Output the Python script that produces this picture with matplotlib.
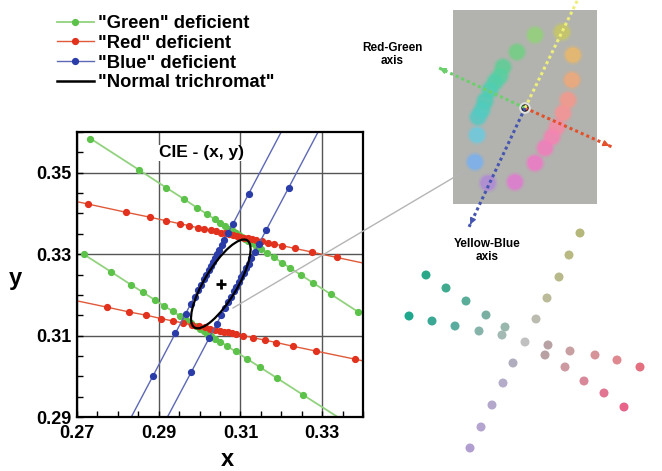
import numpy as np
import matplotlib.pyplot as plt
from matplotlib.patches import Ellipse, Rectangle
from matplotlib.ticker import MultipleLocator

plt.rcParams['font.family'] = ['Liberation Sans', 'DejaVu Sans']
plt.rcParams['font.weight'] = 'bold'

# ---- CIE (x, y) confusion lines ----
green_hi_x = [0.2733, 0.2852, 0.2919, 0.2961, 0.2994, 0.3019, 0.3037, 0.3051, 0.3063, 0.3073,
              0.3082, 0.3090, 0.3097, 0.3104, 0.3111, 0.3119, 0.3128, 0.3138, 0.3150, 0.3164,
              0.3181, 0.3202, 0.3222, 0.3248, 0.3277, 0.3321, 0.3387]
green_hi_y = [0.3584, 0.3507, 0.3463, 0.3436, 0.3414, 0.3398, 0.3386, 0.3377, 0.3370, 0.3363,
              0.3357, 0.3352, 0.3347, 0.3343, 0.3338, 0.3333, 0.3327, 0.3321, 0.3313, 0.3304,
              0.3293, 0.3279, 0.3266, 0.3249, 0.3230, 0.3202, 0.3159]
green_lo_x = [0.2716, 0.2783, 0.2832, 0.2862, 0.2890, 0.2913, 0.2934, 0.2952, 0.2967, 0.2980,
              0.2991, 0.3001, 0.3010, 0.3019, 0.3028, 0.3039, 0.3051, 0.3068, 0.3088, 0.3116,
              0.3147, 0.3189, 0.3254, 0.3360]
green_lo_y = [0.3300, 0.3257, 0.3225, 0.3206, 0.3188, 0.3173, 0.3160, 0.3148, 0.3139, 0.3130,
              0.3123, 0.3117, 0.3111, 0.3105, 0.3099, 0.3092, 0.3085, 0.3074, 0.3061, 0.3043,
              0.3023, 0.2996, 0.2954, 0.2886]
red_hi_x = [0.2640, 0.2728, 0.2820, 0.2878, 0.2919, 0.2951, 0.2975, 0.2995, 0.3012, 0.3027,
            0.3040, 0.3052, 0.3063, 0.3073, 0.3082, 0.3091, 0.3100, 0.3109, 0.3118, 0.3128,
            0.3139, 0.3152, 0.3167, 0.3183, 0.3202, 0.3234, 0.3276, 0.3336, 0.3420]
red_hi_y = [0.3442, 0.3423, 0.3403, 0.3391, 0.3382, 0.3375, 0.3370, 0.3365, 0.3362, 0.3359,
            0.3356, 0.3353, 0.3351, 0.3349, 0.3347, 0.3345, 0.3343, 0.3341, 0.3339, 0.3337,
            0.3334, 0.3332, 0.3328, 0.3325, 0.3321, 0.3314, 0.3305, 0.3292, 0.3274]
red_lo_x = [0.2640, 0.2773, 0.2828, 0.2870, 0.2905, 0.2935, 0.2960, 0.2981, 0.2998, 0.3013,
            0.3026, 0.3038, 0.3049, 0.3059, 0.3069, 0.3079, 0.3090, 0.3107, 0.3131, 0.3159,
            0.3188, 0.3228, 0.3285, 0.3381, 0.3460]
red_lo_y = [0.3198, 0.3170, 0.3158, 0.3150, 0.3142, 0.3136, 0.3131, 0.3126, 0.3123, 0.3120,
            0.3117, 0.3114, 0.3112, 0.3110, 0.3108, 0.3106, 0.3103, 0.3100, 0.3095, 0.3089,
            0.3083, 0.3074, 0.3062, 0.3042, 0.3025]
blue_l_x = [0.2825, 0.2886, 0.2941, 0.2966, 0.2978, 0.2988, 0.2996, 0.3003, 0.3010, 0.3016,
            0.3022, 0.3028, 0.3033, 0.3038, 0.3043, 0.3048, 0.3054, 0.3061, 0.3069, 0.3082,
            0.3120, 0.3215]
blue_l_y = [0.2885, 0.3001, 0.3106, 0.3154, 0.3177, 0.3196, 0.3211, 0.3225, 0.3238, 0.3249,
            0.3261, 0.3272, 0.3282, 0.3291, 0.3301, 0.3310, 0.3322, 0.3335, 0.3351, 0.3375,
            0.3448, 0.3629]
blue_r_x = [0.2915, 0.2980, 0.3023, 0.3042, 0.3053, 0.3062, 0.3070, 0.3077, 0.3084, 0.3090,
            0.3096, 0.3102, 0.3108, 0.3114, 0.3120, 0.3127, 0.3135, 0.3145, 0.3163, 0.3218,
            0.3300]
blue_r_y = [0.2888, 0.3011, 0.3093, 0.3129, 0.3150, 0.3167, 0.3182, 0.3195, 0.3209, 0.3220,
            0.3231, 0.3243, 0.3254, 0.3266, 0.3277, 0.3290, 0.3306, 0.3325, 0.3359, 0.3463,
            0.3619]

# normal trichromat discrimination ellipse (centre, axes, tilt)
ell_center = (0.3052, 0.3227)
ell_width = 0.0250
ell_height = 0.0080
ell_angle = 59

# ---- inset picture (figure pixel coords) ----
panel_box = (453, 10, 144, 194)  # x, y, w, h
centre = (525, 108)
rg_green_end = (437, 67)
rg_red_end = (612, 147)
yb_yellow_end = (580, -5)
yb_blue_end = (469, 227)
link_line = [(233, 308), (463, 172)]

panel_x = [535, 517, 503, 500, 495, 490, 485, 482, 478, 477, 475, 488,
           562, 573, 572, 568, 563, 557, 552, 545, 535, 515]
panel_y = [35, 52, 67, 76, 82, 90, 101, 110, 117, 135, 162, 183,
           32, 55, 80, 100, 113, 127, 137, 148, 163, 182]
panel_c = ['#92d27a', '#72d083', '#5ecf96', '#58cfa0', '#52cfa9', '#4fcfb1', '#4dcdb7', '#50ccbe',
           '#55c9c4', '#6ccbe0', '#78b0f0', '#b08ad8',
           '#c8c865', '#e9b86a', '#f0a878', '#f5988a', '#f79395', '#f78aa5', '#f583b3', '#f27dbd',
           '#ee78c6', '#e07ad0']

dots_x = [426, 446, 466, 486, 505,
          409, 432, 455, 479, 502,
          580, 569, 559, 547, 536, 525,
          513, 503, 492, 481, 470,
          548, 570, 595, 617, 640,
          545, 565, 584, 604, 624]
dots_y = [275, 288, 301, 315, 327,
          316, 321, 326, 331, 335,
          233, 255, 277, 298, 319, 342,
          363, 383, 405, 427, 448,
          345, 351, 355, 360, 367,
          355, 367, 381, 393, 407]
dots_c = ['#28a888', '#40aa8e', '#5aad98', '#7ab0a2', '#98b8ae',
          '#1fa88e', '#3aa894', '#5aac9e', '#86b4ab', '#a2bab3',
          '#b5b87a', '#b8ba82', '#b8b98a', '#bbbb9a', '#bbbbb0', '#c0c0c0',
          '#b0aebe', '#b4acc8', '#b3a8cc', '#b4a4d0', '#b09ed0',
          '#b9a2a4', '#c9a0a2', '#d49498', '#de8890', '#e46f7e',
          '#b9a0a2', '#cc9aa0', '#d88898', '#e27592', '#e8638a']

fig = plt.figure(figsize=(6.62, 4.71), dpi=100)
ax = fig.add_axes([0.1163, 0.1146, 0.432, 0.605])

g_kw = dict(color='#92d27e', lw=1.3, marker='o', ms=4.2, mfc='#5cc24a', mec='#5cc24a')
r_kw = dict(color='#e05a3a', lw=1.0, marker='o', ms=4.2, mfc='#e2321e', mec='#e2321e')
b_kw = dict(color='#5d68b6', lw=1.0, marker='o', ms=4.2, mfc='#2a3ca8', mec='#2a3ca8')

hg, = ax.plot(green_hi_x, green_hi_y, **g_kw)
ax.plot(green_lo_x, green_lo_y, **g_kw)
hr, = ax.plot(red_hi_x, red_hi_y, **r_kw)
ax.plot(red_lo_x, red_lo_y, **r_kw)
hb, = ax.plot(blue_l_x, blue_l_y, **b_kw)
ax.plot(blue_r_x, blue_r_y, **b_kw)
ax.add_patch(Ellipse(ell_center, ell_width, ell_height, angle=ell_angle,
                     fill=False, ec='black', lw=1.6, zorder=5))
ax.plot(*ell_center, marker='+', ms=7, mew=2, color='black', zorder=6)
hn, = ax.plot([], [], color='black', lw=1.8)

ax.set_xlim(0.27, 0.34)
ax.set_ylim(0.29, 0.36)
ax.set_xticks([0.27, 0.29, 0.31, 0.33])
ax.set_yticks([0.29, 0.31, 0.33, 0.35])
ax.xaxis.set_minor_locator(MultipleLocator(0.005))
ax.yaxis.set_minor_locator(MultipleLocator(0.005))
ax.tick_params(which='both', direction='in', length=4, width=1, labelsize=13)
ax.tick_params(axis='x', pad=6)
ax.tick_params(axis='y', pad=4)
ax.grid(True, which='major', color='#555555', lw=1.0)
ax.set_axisbelow(True)
for s in ax.spines.values():
    s.set_linewidth(1.6)
ax.text(0.29, 0.3549, 'CIE - (x, y)', fontsize=12.5, ha='left', va='center',
        bbox=dict(fc='white', ec='none', pad=0.5), zorder=4)

fig.text(227 / 662, 1 - 460 / 471, 'x', fontsize=17, ha='center', va='center')
fig.text(15 / 662, 1 - 279 / 471, 'y', fontsize=17, ha='center', va='center')

fig.legend([hg, hr, hb, hn],
           ['"Green" deficient', '"Red" deficient', '"Blue" deficient', '"Normal trichromat"'],
           loc='upper left', bbox_to_anchor=(57 / 662, 1 - 15 / 471), frameon=False,
           fontsize=13.2, numpoints=1, handlelength=2.0, handletextpad=0.25,
           labelspacing=0.15, borderpad=0, borderaxespad=0)

# overlay in pixel coordinates
ov = fig.add_axes([0, 0, 1, 1])
ov.set_xlim(0, 662)
ov.set_ylim(471, 0)
ov.axis('off')
ov.patch.set_alpha(0)

(lx0, ly0), (lx1, ly1) = link_line
ov.plot([lx0, lx1], [ly0, ly1], color='#b5b5b5', lw=1.0)

px, py, pw, ph = panel_box
ov.add_patch(Rectangle((px, py), pw, ph, fc='#b2b3ae', ec='none'))
ov.scatter(panel_x, panel_y, s=200, c=panel_c, alpha=0.3, edgecolors='none')
ov.scatter(panel_x, panel_y, s=120, c=panel_c, alpha=0.8, edgecolors='none')

dot = dict(lw=2.2, ls=(0, (1, 1)), solid_capstyle='butt')
for end, col, head in [(rg_green_end, '#6bcf6b', True), (rg_red_end, '#e2502c', True),
                       (yb_yellow_end, '#eeee7a', False), (yb_blue_end, '#4656b0', True)]:
    ov.plot([centre[0], end[0]], [centre[1], end[1]], color=col, **dot)
    if head:
        d = np.array(end, float) - np.array(centre, float)
        d = d / np.hypot(*d)
        start = np.array(end) - 7 * d
        ov.annotate('', xy=end, xytext=tuple(start),
                    arrowprops=dict(arrowstyle='-|>', color=col, lw=1, mutation_scale=9))
ov.scatter([centre[0]], [centre[1]], s=70, c='white', alpha=0.6, edgecolors='none')
ov.scatter([centre[0]], [centre[1]], s=28, c='black', edgecolors='none')

ov.text(392, 48, 'Red-Green', fontsize=8.5, ha='center', va='center')
ov.text(392, 61, 'axis', fontsize=8.5, ha='center', va='center')
ov.text(487, 244, 'Yellow-Blue', fontsize=8.5, ha='center', va='center')
ov.text(487, 257, 'axis', fontsize=8.5, ha='center', va='center')

ov.scatter(dots_x, dots_y, s=42, c=dots_c, edgecolors='none')

fig.savefig('out.png', dpi=100)
